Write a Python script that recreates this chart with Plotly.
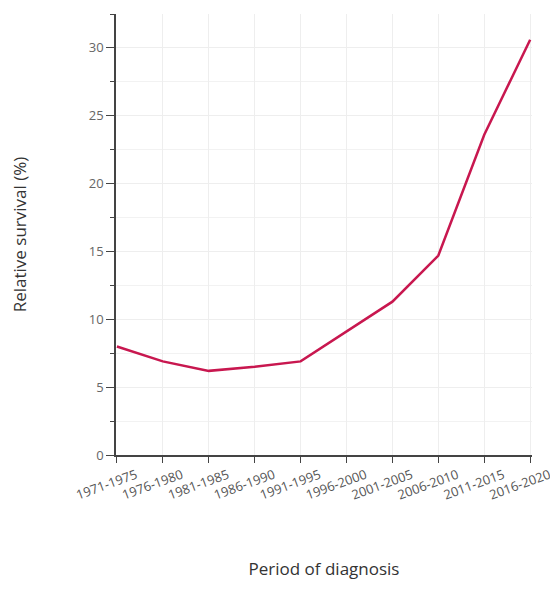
import plotly.graph_objects as go

periods = ["1971-1975", "1976-1980", "1981-1985", "1986-1990", "1991-1995",
           "1996-2000", "2001-2005", "2006-2010", "2011-2015", "2016-2020"]
survival = [8.0, 6.9, 6.2, 6.5, 6.9, 9.1, 11.3, 14.7, 23.6, 30.6]

fig = go.Figure()
fig.add_trace(go.Scatter(
    x=list(range(len(periods))), y=survival, mode="lines",
    line=dict(color="#c8174f", width=2.5),
    hoverinfo="skip", showlegend=False,
))

font_family = "Open Sans, Lato, sans-serif"
fig.update_layout(
    width=558, height=592,
    margin=dict(l=108, r=34, t=6, b=145),
    paper_bgcolor="white", plot_bgcolor="white",
    font=dict(family=font_family, color="#555555"),
    xaxis=dict(
        automargin=False,
        range=[-0.02, 9.04],
        tickmode="array", tickvals=list(range(len(periods))), ticktext=periods,
        tickangle=-20, tickfont=dict(size=13, color="#555555"),
        ticklabelshift=19,
        showline=True, linecolor="#444444", linewidth=1.5,
        ticks="outside", ticklen=6, tickcolor="#444444", tickwidth=1.2,
        showgrid=True, gridcolor="#eeeeee", gridwidth=1,
        zeroline=False,
        title=dict(text="Period of diagnosis", font=dict(size=17, color="#333333"), standoff=61),
    ),
    yaxis=dict(
        automargin=False,
        range=[0, 32.5],
        tickmode="array", tickvals=[0, 5, 10, 15, 20, 25, 30],
        tickfont=dict(size=13, color="#666666"),
        showline=True, linecolor="#444444", linewidth=1.5,
        ticks="outside", ticklen=8, tickcolor="#444444", tickwidth=1.2,
        showgrid=True, gridcolor="#eeeeee", gridwidth=1,
        minor=dict(dtick=2.5, tick0=0, ticks="outside", ticklen=4, tickcolor="#444444",
                   showgrid=True, gridcolor="#f2f2f2"),
        zeroline=False,
        title=dict(text="Relative survival (%)", font=dict(size=17, color="#333333"), standoff=66),
    ),
)

fig.write_html("out.html")
